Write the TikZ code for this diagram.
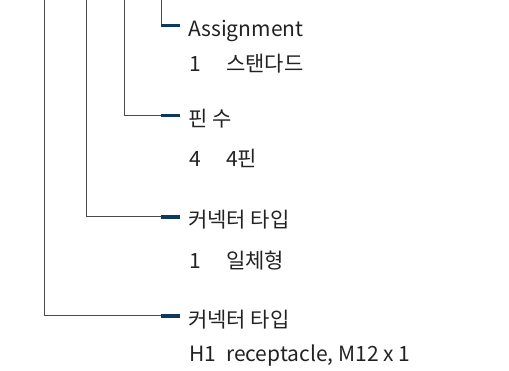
\documentclass[tikz,border=0pt]{standalone}
\usepackage{fontspec}
\setmainfont{Noto Sans CJK KR}
\definecolor{tick}{HTML}{0B3A5E}
\definecolor{txt}{HTML}{222222}
\definecolor{ln}{HTML}{4A4A4A}
\tikzset{
  lbl/.style={anchor=base west, inner sep=0pt, text=txt, font=\fontsize{21}{24}\selectfont},
  conn/.style={draw=ln, line width=1pt},
  tk/.style={draw=tick, line width=3.2pt}
}
\begin{document}
\begin{tikzpicture}[x=1pt,y=-1pt]
\useasboundingbox (0,0) rectangle (509,371);
% top anchors
\coordinate (t1) at (44,0);
\coordinate (t2) at (86,0);
\coordinate (t3) at (124,0);
\coordinate (t4) at (161,0);
% corners
\coordinate (c1) at (44,316);
\coordinate (c2) at (86,217);
\coordinate (c3) at (124,115.5);
\coordinate (c4) at (161,25.5);
% tick starts/ends
\coordinate (s1) at (161,316);
\coordinate (s2) at (161,217);
\coordinate (s3) at (161,115.5);
\coordinate (e1) at (180,316);
\coordinate (e2) at (180,217);
\coordinate (e3) at (180,115.5);
\coordinate (e4) at (180,25.5);
\draw[conn] (t1) -- (c1) -- (s1);
\draw[conn] (t2) -- (c2) -- (s2);
\draw[conn] (t3) -- (c3) -- (s3);
\draw[conn] (t4) -- (c4);
\draw[tk] (s1) -- (e1);
\draw[tk] (s2) -- (e2);
\draw[tk] (s3) -- (e3);
\draw[tk] (c4) -- (e4);
% labels
\node[lbl] (h4) at (188,36.5) {Assignment};
\node[lbl] (v4a) at (189,72) {1};
\node[lbl] (v4b) at (226,72) {스탠다드};
\node[lbl] (h3) at (188,126.5) {핀 수};
\node[lbl] (v3a) at (189,166.5) {4};
\node[lbl] (v3b) at (226,166.5) {4핀};
\node[lbl] (h2) at (188,228) {커넥터 타입};
\node[lbl] (v2a) at (189,269) {1};
\node[lbl] (v2b) at (226,269) {일체형};
\node[lbl] (h1) at (188,327.5) {커넥터 타입};
\node[lbl] (v1a) at (189,362) {H1};
\node[lbl] (v1b) at (226,362) {receptacle, M12 x 1};
\end{tikzpicture}
\end{document}
